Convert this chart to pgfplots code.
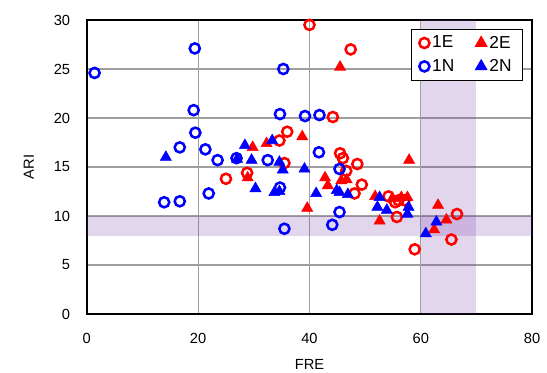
\documentclass[border=0pt]{standalone}
\usepackage{pgfplots}
\pgfplotsset{compat=1.18}
\usepackage{fontspec}
\setmainfont{Liberation Sans}
\definecolor{bandc}{RGB}{112,48,160}
\definecolor{myred}{RGB}{255,0,0}
\definecolor{myblue}{RGB}{0,0,255}
\begin{document}
\begin{tikzpicture}
\begin{axis}[
  scale only axis, width=334pt, height=220.5pt,
  xmin=0, xmax=80, ymin=0, ymax=30,
  xtick={0,20,40,60,80}, ytick={0,5,10,15,20,25,30},
  grid=major, major grid style={draw=gray!75, line width=0.8pt},
  major tick length=0pt,
  axis line style={line width=1.6pt},
  tick label style={font=\fontsize{11}{13}\selectfont},
  /pgf/number format/assume math mode=true,
  xticklabel style={yshift=-11pt},
  yticklabel style={xshift=-9pt},
  xlabel={FRE}, ylabel={ARI},
  label style={font=\fontsize{11}{13}\selectfont},
  xlabel style={at={(axis description cs:0.5,-0.17)}, anchor=center},
  ylabel style={at={(axis description cs:-0.13,0.5)}, anchor=center},
  legend columns=2,
  legend style={at={(1,1)}, anchor=north east, xshift=-7pt, yshift=-6.5pt,
    draw=black, line width=0.9pt, font=\fontsize{13}{15}\selectfont,
    inner xsep=6pt, inner ysep=3pt, row sep=3pt,
    /tikz/every even column/.append style={column sep=14pt}},
  legend cell align=left,
]
\addplot[draw=none, fill=bandc, fill opacity=0.2, forget plot] coordinates {(60,0) (70,0) (70,30) (60,30)} -- cycle;
\addplot[draw=none, fill=bandc, fill opacity=0.2, forget plot] coordinates {(0,8) (80,8) (80,10) (0,10)} -- cycle;

\addplot[only marks, mark=o, mark size=3.8pt, myred, mark options={line width=1.9pt}] coordinates {
(40.0,29.5) (47.4,27.0) (44.2,20.1) (36.0,18.6) (34.6,17.7) (28.8,14.4) (25.0,13.8)
(35.5,15.4) (45.5,16.4) (46.0,15.9) (48.6,15.3) (46.6,14.6) (49.4,13.2) (48.1,12.3)
(54.2,12.0) (55.4,11.4) (56.0,11.6) (57.1,11.6) (55.7,9.9) (66.5,10.2) (65.5,7.6) (58.9,6.6)
};
\addlegendentry{1E}
\addplot[only marks, mark=triangle*, mark size=4.8pt, myred] coordinates {
(45.5,25.2) (38.7,18.1) (32.3,17.4) (29.8,17.0) (28.9,13.9) (42.8,13.9) (43.3,13.1)
(45.7,13.6) (46.7,13.7) (39.6,10.8) (57.9,15.7) (51.8,12.0) (54.9,11.8) (56.5,11.9)
(57.6,11.9) (52.6,9.5) (63.1,11.1) (64.6,9.6) (62.4,8.6)
};
\addlegendentry{2E}
\addplot[only marks, mark=o, mark size=3.8pt, myblue, mark options={line width=1.9pt}] coordinates {
(1.4,24.6) (19.4,27.1) (35.3,25.0) (19.2,20.8) (19.5,18.5) (16.7,17.0) (21.3,16.8)
(23.5,15.7) (26.9,15.9) (13.9,11.4) (16.7,11.5) (21.9,12.3) (34.7,20.4) (39.2,20.2)
(41.8,20.3) (32.5,15.7) (41.7,16.5) (34.7,12.9) (45.4,14.8) (45.4,10.4) (44.1,9.1) (35.5,8.7)
};
\addlegendentry{1N}
\addplot[only marks, mark=triangle*, mark size=4.8pt, myblue] coordinates {
(14.2,16.0) (27.0,15.8) (28.4,17.2) (29.6,15.7) (30.3,12.8) (33.3,17.7) (34.6,15.5)
(35.2,14.7) (39.1,14.8) (34.6,12.5) (33.7,12.4) (41.2,12.3) (44.9,12.6) (45.4,12.4)
(46.9,12.2) (52.6,11.9) (52.2,10.9) (53.9,10.6) (57.8,10.9) (57.6,10.2) (62.8,9.4) (60.9,8.2)
};
\addlegendentry{2N}
\end{axis}
\pgfresetboundingbox
\useasboundingbox (-65.1pt,-44.25pt) rectangle (345.15pt,235.5pt);
\end{tikzpicture}
\end{document}
